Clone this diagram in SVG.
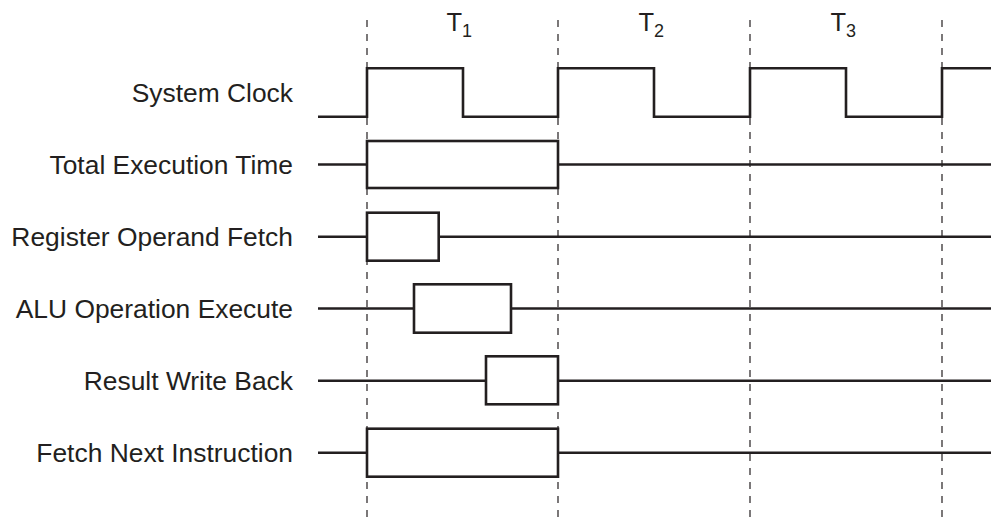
<svg xmlns="http://www.w3.org/2000/svg" width="991" height="518" viewBox="0 0 991 518">
<style>
.bg{fill:#ffffff}
.sig{fill:none;stroke:#231f20;stroke-width:2.6;stroke-linejoin:miter;stroke-linecap:butt}
.box{fill:#ffffff;stroke:#231f20;stroke-width:2.6}
.grid{stroke:#231f20;stroke-width:1.2;stroke-dasharray:7 7;fill:none}
.lbl{font-family:"Liberation Sans",Arial,Helvetica,sans-serif;font-size:26.4px;fill:#231f20;text-anchor:end}
.t{font-family:"Liberation Sans",Arial,Helvetica,sans-serif;font-size:25.5px;fill:#231f20}
.sub{font-size:18px}
</style>
<rect class="bg" x="0" y="0" width="991" height="518"/>
<g id="grid-lines">
<line class="grid" x1="367" y1="20" x2="367" y2="518"/>
<line class="grid" x1="558" y1="20" x2="558" y2="518"/>
<line class="grid" x1="750" y1="20" x2="750" y2="518"/>
<line class="grid" x1="942" y1="20" x2="942" y2="518"/>
</g>
<g id="period-labels">
<text class="t" x="446.5" y="30.7">T<tspan class="sub" dy="6">1</tspan></text>
<text class="t" x="638.5" y="30.7">T<tspan class="sub" dy="6">2</tspan></text>
<text class="t" x="830.5" y="30.7">T<tspan class="sub" dy="6">3</tspan></text>
</g>
<g id="system-clock">
<text class="lbl" x="293" y="101.5">System Clock</text>
<polyline class="sig" points="318,116.7 367,116.7 367,68.3 463,68.3 463,116.7 558,116.7 558,68.3 654,68.3 654,116.7 750,116.7 750,68.3 846,68.3 846,116.7 942,116.7 942,68.3 991,68.3"/>
</g>
<g id="total-execution-time">
<text class="lbl" x="293" y="173.5">Total Execution Time</text>
<line class="sig" x1="318" y1="164.5" x2="367" y2="164.5"/>
<line class="sig" x1="558" y1="164.5" x2="991" y2="164.5"/>
<rect class="box" x="367" y="141" width="191" height="47"/>
</g>
<g id="register-operand-fetch">
<text class="lbl" x="293" y="245.5">Register Operand Fetch</text>
<line class="sig" x1="318" y1="236.7" x2="367" y2="236.7"/>
<line class="sig" x1="438.7" y1="236.7" x2="991" y2="236.7"/>
<rect class="box" x="367" y="212.7" width="71.7" height="48"/>
</g>
<g id="alu-operation-execute">
<text class="lbl" x="293" y="317.5">ALU Operation Execute</text>
<line class="sig" x1="318" y1="308.5" x2="414" y2="308.5"/>
<line class="sig" x1="511" y1="308.5" x2="991" y2="308.5"/>
<rect class="box" x="414" y="284.3" width="97" height="48.4"/>
</g>
<g id="result-write-back">
<text class="lbl" x="293" y="389.7">Result Write Back</text>
<line class="sig" x1="318" y1="380.7" x2="486" y2="380.7"/>
<line class="sig" x1="558" y1="380.7" x2="991" y2="380.7"/>
<rect class="box" x="486" y="356.3" width="72" height="48"/>
</g>
<g id="fetch-next-instruction">
<text class="lbl" x="293" y="461.7">Fetch Next Instruction</text>
<line class="sig" x1="318" y1="452.7" x2="367" y2="452.7"/>
<line class="sig" x1="558" y1="452.7" x2="991" y2="452.7"/>
<rect class="box" x="367" y="428.7" width="191" height="48"/>
</g>
</svg>
